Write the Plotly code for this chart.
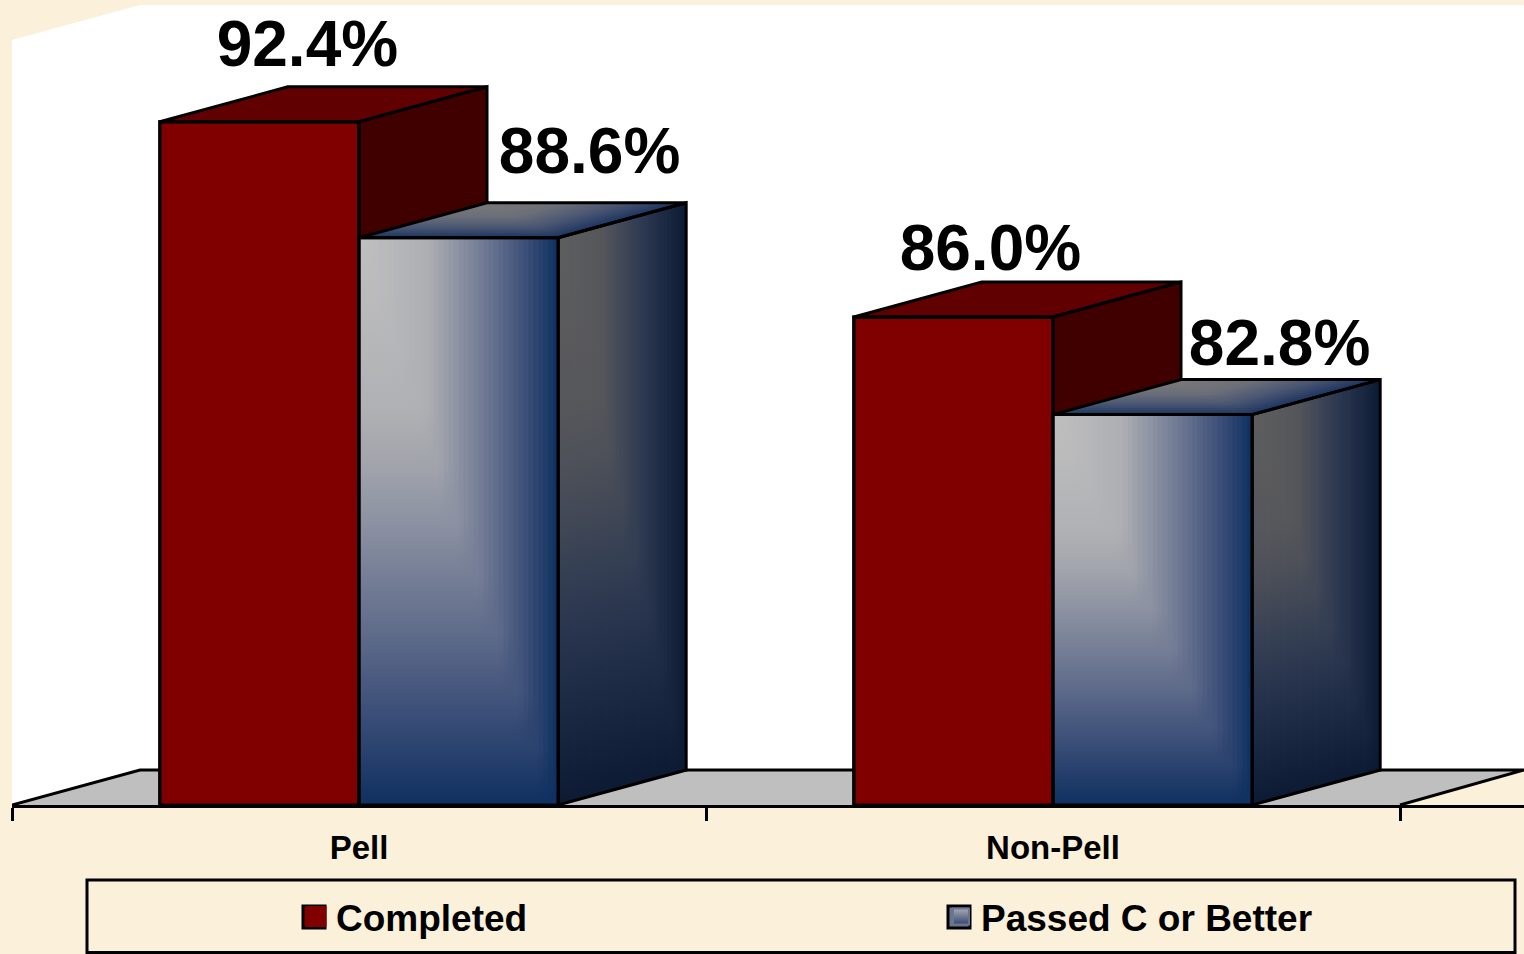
import numpy as np
import plotly.graph_objects as go

categories = ["Pell", "Non-Pell"]
completed = [92.4, 86.0]
passed = [88.6, 82.8]
series_names = ["Completed", "Passed C or Better"]

Y0 = 70.0
PX_X = 694.0
PX_Y = 30.5
XMIN, XMAX = -0.5, -0.5 + 1512 / PX_X
YMAX = Y0 + 800 / PX_Y
DX = 128 / PX_X
DY = 35 / PX_Y
W = 0.287
N = 40
ROWS = 16
BLACK = "#000000"

FRONT = [(0, "#c0c0c0"), (.35, "#adaeb2"), (.65, "#6a7591"), (.85, "#394c76"), (1, "#0f3060")]
SIDE = [(0, "#5e5e5e"), (.35, "#55565a"), (.65, "#2e3a52"), (1, "#0c1a34")]
TOP = [(0, "#7a7a7a"), (.4, "#6c6f78"), (.7, "#4a5672"), (1, "#1c3460")]


def ramp(stops, t):
    ts = [s[0] for s in stops]
    rgb = np.array([[int(s[1][i:i + 2], 16) for i in (1, 3, 5)] for s in stops], float)
    c = [np.interp(t, ts, rgb[:, k]) for k in range(3)]
    return "rgb(%d,%d,%d)" % tuple(int(round(v)) for v in c)


def strip(xs, ys, start, stop, stops, u, kind="vertical"):
    vs = np.linspace(0, 1, 11)
    scale = [[float(v), ramp(stops, max(u, float(v)))] for v in vs]
    return go.Scatter(
        x=xs + xs[:1], y=ys + ys[:1], mode="lines", fill="toself", line=dict(width=0),
        fillgradient=dict(type=kind, colorscale=scale, start=start, stop=stop),
        hoverinfo="skip", showlegend=False,
    )


def poly(xs, ys, fill=None, lw=3):
    return go.Scatter(
        x=xs + xs[:1], y=ys + ys[:1], mode="lines", fill="toself" if fill else "none",
        fillcolor=fill, line=dict(color=BLACK, width=lw), hoverinfo="skip", showlegend=False,
    )


traces = []
# legend-only entries
traces.append(go.Scatter(x=[None], y=[None], mode="markers", name=series_names[0], legend="legend",
                         marker=dict(symbol="square", size=16, color="#800000",
                                     line=dict(color="#800000", width=5))))
traces.append(go.Scatter(x=[None], y=[None], mode="markers", name=series_names[1], legend="legend2",
                         marker=dict(symbol="square", size=16, color="#a9abb3",
                                     gradient=dict(type="vertical", color="#33466f"),
                                     line=dict(color="#6a7591", width=2))))
# front faces as real bars
traces.append(go.Bar(x=[0, 1], y=completed, name=series_names[0], showlegend=False,
                     marker=dict(color="#800000", line=dict(color=BLACK, width=3))))
traces.append(go.Bar(x=[0, 1], y=passed, name=series_names[1], showlegend=False,
                     marker=dict(color="#1c3460", line=dict(color=BLACK, width=3))))

for i in range(len(categories)):
    x0, x1, h = i - W, i, completed[i]
    traces.append(poly([x0, x1, x1 + DX, x0 + DX], [h, h, h + DY, h + DY], "#600000"))
    traces.append(poly([x1, x1 + DX, x1 + DX, x1], [Y0, Y0 + DY, h + DY, h], "#400000"))
    x0, x1, h = i, i + W, passed[i]
    # top face: horizontal rows, back (v=0) to front (v=1)
    rows = np.linspace(0, 1, ROWS + 1)
    for a, b in zip(rows[:-1], rows[1:]):
        a, b = float(a), float(b)
        v = (a + b) / 2
        b2 = min(1.0, b + 0.03)
        shift_a, shift_b = DX * (1 - a), DX * (1 - b2)
        y_a, y_b = h + DY * (1 - a), h + DY * (1 - b2)
        traces.append(strip(
            [x0 + shift_a, x1 + shift_a, x1 + shift_b, x0 + shift_b],
            [y_a, y_a, y_b, y_b],
            x0 + DX * (1 - v), x1 + DX * (1 - v), TOP, v, kind="horizontal"))
    edges = np.linspace(0, 1, N + 1)
    for a, b in zip(edges[:-1], edges[1:]):
        a, b = float(a), float(b)
        u = (a + b) / 2
        b2 = min(1.0, b + 0.006)
        traces.append(strip(
            [x1 + DX * a, x1 + DX * b2, x1 + DX * b2, x1 + DX * a],
            [h + DY * a, h + DY * b2, Y0 + DY * b2, Y0 + DY * a],
            h + DY * u, Y0 + DY * u, SIDE, u))
        traces.append(strip(
            [x0 + W * a, x0 + W * b2, x0 + W * b2, x0 + W * a],
            [h, h, Y0, Y0], h, Y0, FRONT, u))
    traces.append(poly([x0, x1, x1 + DX, x0 + DX], [h, h, h + DY, h + DY]))
    traces.append(poly([x1, x1 + DX, x1 + DX, x1], [Y0, Y0 + DY, h + DY, h]))
    traces.append(poly([x0, x1, x1, x0], [Y0, Y0, h, h]))
    xr = i - W
    traces.append(poly([xr, i, i, xr], [Y0, Y0, completed[i], completed[i]]))

# data labels (offsets in pixels from each bar's top centre)
label_off = [[(48, 72), (131, 81)], [(37, 63), (127, 66)]]
lx, ly, lt = [], [], []
for i in range(len(categories)):
    for j, vals in enumerate((completed, passed)):
        ox, oy = label_off[i][j]
        lx.append(i + (j - 0.5) * W + ox / PX_X)
        ly.append(vals[i] + oy / PX_Y)
        lt.append(f"{vals[i]:.1f}%")
traces.append(go.Scatter(x=lx, y=ly, text=lt, mode="text", textposition="middle center",
                         textfont=dict(family="Liberation Sans", size=64, color=BLACK,
                                       weight="bold"),
                         cliponaxis=False, hoverinfo="skip", showlegend=False))

fig = go.Figure(traces)

wall = (f"M{XMIN},{Y0} L{XMIN},{YMAX - DY} L{XMIN + DX},{YMAX} L{XMAX},{YMAX} "
        f"L{XMAX},{Y0 + DY} L{XMIN + DX},{Y0 + DY} Z")
floor = (f"M{XMIN},{Y0} L{XMIN + DX},{Y0 + DY} L{XMAX},{Y0 + DY} L{1.5},{Y0} Z")
floor_edge = (f"M{XMIN},{Y0} L{XMIN + DX},{Y0 + DY} L{XMAX},{Y0 + DY} L{1.5},{Y0}")


def paper_x(px):
    return (px - 12) / 1512


def paper_y(py):
    return (805 - py) / 800


def swatch(x0, x1, y0, y1, fill):
    return dict(type="rect", xref="paper", yref="paper",
                x0=paper_x(x0), x1=paper_x(x1), y0=paper_y(y1), y1=paper_y(y0),
                line=dict(color=BLACK, width=3), fillcolor=fill)


shapes = [
    dict(type="path", path=wall, xref="x", yref="y", fillcolor="#ffffff",
         line=dict(width=0), layer="below"),
    dict(type="path", path=floor, xref="x", yref="y", fillcolor="#bfbfbf",
         line=dict(width=0), layer="below"),
    dict(type="path", path=floor_edge, xref="x", yref="y",
         line=dict(color=BLACK, width=3), layer="below"),
    dict(type="rect", xref="paper", yref="paper",
         x0=paper_x(87), x1=paper_x(1515), y0=paper_y(952.5), y1=paper_y(880),
         line=dict(color=BLACK, width=3), fillcolor="rgba(0,0,0,0)"),
    swatch(303, 325, 906, 928, "#800000"),
    swatch(948, 970, 906, 928, "#6a7591"),
]

legend_font = dict(family="Liberation Sans", size=37, color=BLACK, weight="bold")
legend_common = dict(xref="container", yref="container", xanchor="left", yanchor="middle",
                     y=(954 - 917) / 954, orientation="h",
                     bgcolor="rgba(0,0,0,0)", borderwidth=0, font=legend_font)

fig.update_layout(
    width=1524, height=954, autosize=False,
    margin=dict(l=12, r=0, t=5, b=149),
    paper_bgcolor="#fbf0da", plot_bgcolor="rgba(0,0,0,0)",
    barmode="group", bargap=1 - 2 * W, bargroupgap=0,
    shapes=shapes, hovermode=False,
    font=dict(family="Liberation Sans", color=BLACK),
    showlegend=True,
    legend=dict(x=296 / 1524, **legend_common),
    legend2=dict(x=941 / 1524, **legend_common),
    xaxis=dict(range=[XMIN, XMAX], tickmode="array", tickvals=[0, 1], ticktext=categories,
               ticks="", ticklen=0, showgrid=False, zeroline=False, automargin=False,
               showline=True, linecolor=BLACK, linewidth=3,
               ticklabelstandoff=11,
               tickfont=dict(family="Liberation Sans", size=33, color=BLACK, weight="bold"),
               minor=dict(tickmode="array", tickvals=[-0.5, 0.5, 1.5], ticks="outside",
                          ticklen=13, tickwidth=3, tickcolor=BLACK, showgrid=False)),
    yaxis=dict(range=[Y0, YMAX], visible=False, showgrid=False, zeroline=False, automargin=False),
)

fig.write_html("out.html", config=dict(displayModeBar=False),
               post_script="document.body.style.margin='0';document.documentElement.style.overflow='hidden';"
                           "document.body.style.background='#fbf0da';")
